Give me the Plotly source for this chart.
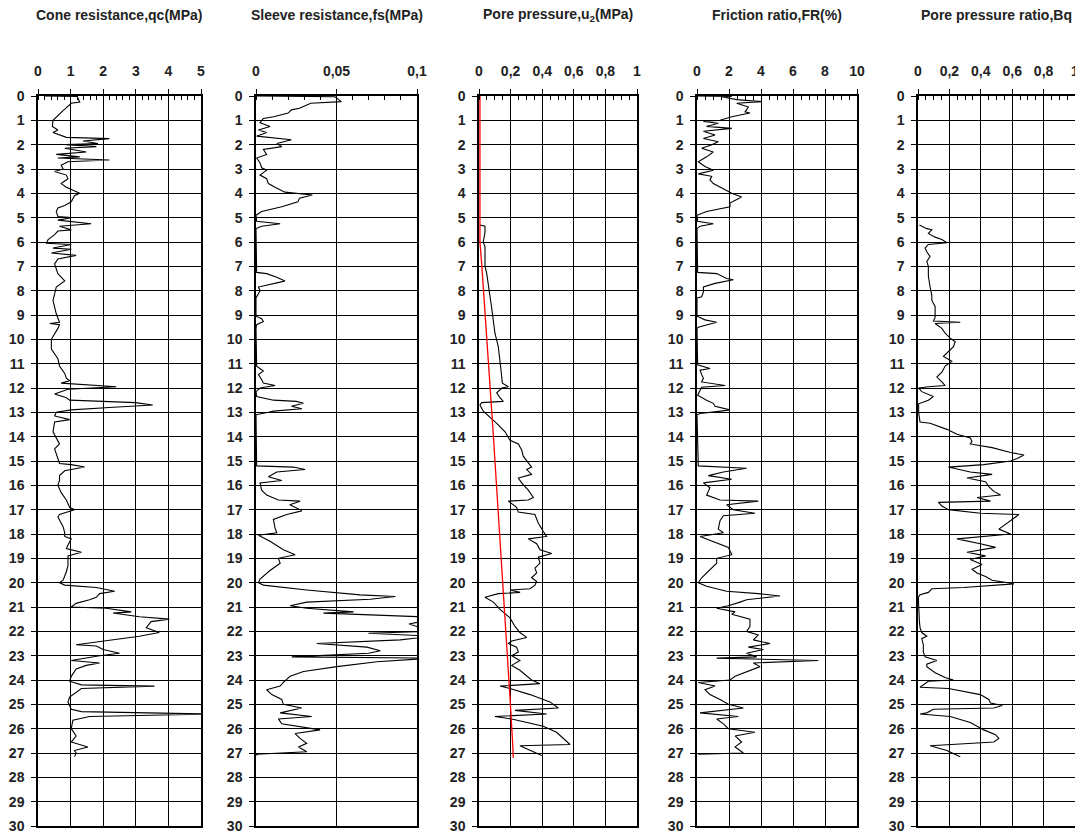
import plotly.graph_objects as go
from plotly.subplots import make_subplots

# CPT log; depth in m
titles = ["Cone resistance,qc(MPa)", "Sleeve resistance,fs(MPa)", "Pore pressure,u<sub>2</sub>(MPa)",
          "Friction ratio,FR(%)", "Pore pressure ratio,Bq"]

qc_depth = [0.0, 0.02, 0.25, 0.3, 0.6, 0.85, 1.0, 1.25, 1.4, 1.5, 1.7, 1.75, 1.85, 1.95, 2.0, 2.08, 2.15, 2.3, 2.4, 2.5,
            2.55, 2.63, 2.7, 2.85, 3.0, 3.1, 3.25, 3.4, 3.6, 3.75, 3.85, 4.0, 4.1, 4.35, 4.5, 4.6, 4.75, 4.95, 5.0, 5.1,
            5.25, 5.35, 5.5, 5.55, 5.7, 5.9, 6.05, 6.1, 6.25, 6.3, 6.45, 6.55, 6.7, 6.9, 7.3, 7.6, 7.85, 8.4, 8.95, 9.3,
            9.35, 9.4, 9.55, 10.0, 10.4, 10.8, 11.1, 11.4, 11.6, 11.7, 11.8, 11.95, 12.05, 12.25, 12.4, 12.5, 12.6, 12.65,
            12.7, 12.8, 12.9, 13.0, 13.15, 13.3, 13.4, 13.8, 14.3, 14.5, 15.1, 15.15, 15.25, 15.4, 15.6, 15.8, 16.0,
            16.3, 16.6, 16.9, 17.0, 17.2, 17.3, 17.7, 17.95, 18.1, 18.2, 18.45, 18.6, 18.75, 18.9, 19.3, 19.55, 19.9,
            20.0, 20.1, 20.2, 20.35, 20.45, 20.6, 20.7, 20.85, 21.0, 21.05, 21.2, 21.25, 21.4, 21.5, 21.6, 21.85, 22.05,
            22.2, 22.4, 22.55, 22.6, 22.75, 22.9, 23.0, 23.2, 23.3, 23.4, 23.55, 23.85, 24.05, 24.2, 24.25, 24.35, 24.5,
            24.7, 24.9, 25.2, 25.3, 25.4, 25.5, 25.65, 26.0, 26.3, 26.55, 26.75, 26.9, 27.0, 27.15]
qc_value = [0.2, 1.2, 1.28, 1.02, 0.77, 0.56, 0.46, 0.44, 0.61, 0.46, 0.87, 2.19, 1.38, 1.84, 0.87, 1.79, 0.82, 1.48, 0.56,
            1.28, 0.61, 2.19, 0.92, 0.71, 0.77, 0.51, 0.87, 0.92, 0.71, 0.87, 1.02, 1.28, 1.12, 1.02, 0.82, 0.61, 0.56,
            0.61, 1.02, 0.61, 1.63, 0.66, 1.02, 0.61, 0.51, 0.31, 0.26, 1.02, 0.46, 1.02, 0.41, 1.17, 0.61, 0.51, 0.61,
            0.82, 0.56, 0.46, 0.56, 0.66, 0.36, 0.66, 0.61, 0.41, 0.41, 0.61, 0.66, 0.82, 0.87, 0.97, 0.71, 2.4, 0.92,
            0.51, 0.87, 0.97, 3.0, 3.32, 3.52, 2.19, 1.02, 0.56, 0.51, 0.97, 0.51, 0.46, 0.66, 0.51, 0.66, 1.02, 1.43,
            0.82, 0.66, 0.66, 0.61, 0.71, 0.87, 0.97, 1.12, 0.66, 0.61, 0.77, 0.82, 0.82, 1.02, 0.92, 0.87, 1.33, 0.92,
            0.92, 0.87, 0.77, 0.66, 0.82, 1.79, 2.35, 1.89, 1.79, 1.58, 1.17, 1.02, 2.09, 2.86, 2.3, 3.11, 4.03, 3.47,
            3.32, 3.72, 3.11, 2.0, 1.17, 1.79, 2.0, 2.5, 1.89, 1.02, 1.89, 1.48, 1.17, 1.02, 0.97, 1.33, 3.57, 1.33,
            1.17, 0.97, 0.92, 1.02, 1.33, 5.3, 1.58, 1.07, 1.02, 1.17, 1.02, 1.53, 1.12, 1.17, 1.12]

fs_depth = [0.0, 0.03, 0.23, 0.3, 0.5, 0.57, 0.7, 0.85, 0.92, 1.1, 1.25, 1.4, 1.5, 1.65, 1.8, 1.95, 2.08, 2.2, 2.4, 2.55,
            2.75, 2.95, 3.05, 3.25, 3.4, 3.6, 3.75, 3.95, 4.07, 4.2, 4.35, 4.55, 4.75, 4.9, 5.15, 5.25, 5.35, 5.45, 7.25,
            7.3, 7.45, 7.6, 7.65, 7.8, 7.85, 8.0, 8.25, 8.3, 9.05, 9.15, 9.27, 9.4, 9.55, 11.1, 11.3, 11.45, 11.65, 11.8,
            11.9, 12.0, 12.15, 12.35, 12.5, 12.55, 12.63, 12.75, 12.85, 12.95, 13.0, 13.1, 15.2, 15.25, 15.35, 15.45,
            15.65, 15.8, 15.9, 16.2, 16.4, 16.6, 16.65, 16.8, 17.0, 17.05, 17.2, 17.4, 17.75, 17.95, 18.05, 18.3, 18.65,
            18.85, 19.0, 19.2, 19.5, 19.85, 20.0, 20.1, 20.3, 20.5, 20.57, 20.68, 20.8, 20.95, 21.05, 21.2, 21.25, 21.4,
            21.5, 21.7, 22.0, 22.08, 22.2, 22.35, 22.5, 22.65, 22.8, 22.9, 23.05, 23.1, 23.25, 23.45, 23.65, 23.85,
            24.1, 24.25, 24.4, 24.6, 24.8, 25.0, 25.15, 25.35, 25.5, 25.6, 25.8, 26.05, 26.2, 26.4, 26.6, 26.75, 26.95,
            27.05, 27.1]
fs_value = [0.0005, 0.049, 0.053, 0.034, 0.027, 0.022, 0.02, 0.011, 0.0046, 0.0025, 0.0087, 0.0015, 0.0066, 0.0004,
            0.022, 0.013, 0.016, 0.0046, 0.0066, 0.0004, 0.0025, 0.0035, 0.0066, 0.0025, 0.0066, 0.0077, 0.0118, 0.018,
            0.035, 0.027, 0.026, 0.016, 0.0035, 0.0, 0.0004, 0.015, 0.0035, 0.0, 0.0004, 0.0066, 0.0129, 0.018, 0.015,
            0.0046, 0.0015, 0.0025, 0.0008, 0.0, 0.0, 0.0035, 0.0046, 0.0004, 0.0, 0.0004, 0.0046, 0.0015, 0.0035,
            0.0046, 0.0118, 0.0025, 0.0, 0.0004, 0.0108, 0.025, 0.0295, 0.022, 0.0285, 0.0108, 0.0077, 0.0, 0.0004,
            0.0232, 0.0305, 0.0129, 0.0077, 0.016, 0.0025, 0.0035, 0.0066, 0.0139, 0.0274, 0.021, 0.0274, 0.0284,
            0.0191, 0.0108, 0.0118, 0.0129, 0.0015, 0.0087, 0.017, 0.0243, 0.0139, 0.015, 0.0087, 0.0025, 0.0015,
            0.0046, 0.0315, 0.0647, 0.0865, 0.071, 0.0315, 0.0212, 0.0315, 0.0606, 0.0419, 0.102, 0.11, 0.095, 0.11,
            0.0699, 0.11, 0.0896, 0.0378, 0.0689, 0.0772, 0.0699, 0.0222, 0.11, 0.0751, 0.0502, 0.0295, 0.0212, 0.017,
            0.015, 0.0066, 0.0098, 0.016, 0.017, 0.0284, 0.015, 0.0346, 0.0139, 0.016, 0.0398, 0.0243, 0.0274, 0.0315,
            0.0264, 0.0315, 0.0004, 0.0008]

u2_depth = [5.3, 5.35, 5.6, 6.0, 6.2, 7.0, 7.3, 7.85, 8.25, 8.7, 9.3, 9.75, 10.3, 10.8, 11.25, 11.8, 11.95, 12.0, 12.2,
            12.4, 12.55, 12.6, 12.7, 12.95, 13.25, 13.45, 13.8, 14.15, 14.3, 14.55, 14.8, 15.0, 15.25, 15.35, 15.55,
            15.7, 15.9, 16.2, 16.5, 16.6, 16.65, 16.9, 17.1, 17.2, 17.55, 17.9, 18.1, 18.2, 18.4, 18.65, 18.8, 18.95,
            19.2, 19.4, 19.6, 19.8, 19.95, 20.1, 20.25, 20.3, 20.4, 20.45, 20.6, 20.8, 21.1, 21.45, 21.8, 22.05, 22.25,
            22.4, 22.5, 22.65, 22.85, 23.0, 23.2, 23.4, 23.6, 24.0, 24.15, 24.25, 24.35, 24.6, 24.9, 25.15, 25.25, 25.4,
            25.5, 25.6, 25.9, 26.15, 26.45, 26.65, 26.7, 26.85, 27.1]
u2_value = [0.006, 0.038, 0.038, 0.027, 0.038, 0.038, 0.049, 0.059, 0.07, 0.08, 0.091, 0.101, 0.122, 0.129, 0.139,
            0.148, 0.186, 0.144, 0.112, 0.133, 0.154, 0.017, 0.006, 0.027, 0.08, 0.112, 0.165, 0.196, 0.249, 0.27, 0.28,
            0.302, 0.333, 0.302, 0.333, 0.249, 0.27, 0.312, 0.344, 0.312, 0.186, 0.238, 0.249, 0.354, 0.375, 0.407,
            0.428, 0.312, 0.365, 0.386, 0.46, 0.375, 0.386, 0.354, 0.365, 0.333, 0.365, 0.354, 0.323, 0.196, 0.26,
            0.122, 0.038, 0.091, 0.133, 0.196, 0.228, 0.259, 0.302, 0.207, 0.186, 0.238, 0.249, 0.207, 0.259, 0.207,
            0.259, 0.333, 0.386, 0.133, 0.196, 0.323, 0.449, 0.502, 0.228, 0.428, 0.101, 0.207, 0.407, 0.491, 0.544,
            0.576, 0.259, 0.312, 0.397]

# hydrostatic line (red)
u0_depth = [0.0, 6.0, 6.9, 8.8, 10.3, 12.05, 13.95, 15.0, 17.6, 20.0, 22.8, 24.7, 26.6, 27.2]
u0_value = [0.006, 0.006, 0.017, 0.038, 0.053, 0.07, 0.091, 0.101, 0.127, 0.15, 0.181, 0.196, 0.213, 0.217]

fr_depth = [0.0, 0.02, 0.03, 0.15, 0.23, 0.3, 0.45, 0.65, 0.7, 0.85, 1.0, 1.05, 1.12, 1.25, 1.33, 1.45, 1.6, 1.75, 1.88,
            2.0, 2.15, 2.3, 2.5, 2.7, 2.9, 3.05, 3.2, 3.3, 3.45, 3.6, 3.75, 3.85, 4.0, 4.15, 4.27, 4.4, 4.55, 4.75, 4.9,
            5.15, 5.25, 5.35, 5.45, 7.25, 7.3, 7.5, 7.55, 7.7, 7.85, 8.05, 8.25, 8.3, 9.05, 9.2, 9.3, 9.5, 9.55, 11.05,
            11.2, 11.27, 11.45, 11.6, 11.75, 11.9, 11.97, 12.3, 12.5, 12.63, 12.75, 12.9, 12.97, 13.05, 13.1, 15.2,
            15.3, 15.45, 15.6, 15.75, 15.9, 16.1, 16.4, 16.6, 16.65, 16.8, 17.0, 17.15, 17.25, 17.45, 17.8, 17.95, 18.1,
            18.35, 18.55, 18.85, 19.0, 19.2, 19.45, 19.8, 20.0, 20.15, 20.35, 20.45, 20.55, 20.7, 20.8, 20.95, 21.05,
            21.2, 21.3, 21.5, 21.8, 22.0, 22.15, 22.35, 22.5, 22.65, 22.75, 22.9, 23.05, 23.1, 23.2, 23.3, 23.45, 23.65,
            23.85, 24.0, 24.1, 24.25, 24.4, 24.6, 24.8, 25.0, 25.15, 25.35, 25.5, 25.6, 25.8, 26.0, 26.15, 26.3, 26.55,
            26.75, 26.9, 27.0, 27.05]
fr_value = [0.0, 2.17, 1.54, 2.48, 4.04, 2.48, 3.21, 3.0, 3.31, 2.17, 1.44, 0.4, 1.33, 0.6, 2.17, 0.4, 1.13, 0.4, 1.33,
            0.92, 0.29, 1.02, 0.6, 0.08, 0.5, 1.02, 0.08, 0.92, 0.81, 1.02, 1.44, 1.75, 2.17, 2.79, 2.48, 2.06, 2.06,
            0.6, 0.0, 0.04, 1.02, 0.19, 0.0, 0.04, 1.23, 1.85, 2.27, 1.13, 0.4, 0.4, 0.29, 0.0, 0.0, 0.5, 1.23, 0.08,
            0.0, 0.04, 0.81, 0.19, 0.29, 0.4, 0.29, 1.75, 0.29, 0.04, 0.6, 1.02, 1.13, 2.06, 1.23, 0.19, 0.0, 0.08, 3.1,
            1.65, 0.71, 2.17, 0.4, 0.81, 0.6, 1.44, 3.83, 1.85, 2.27, 3.62, 1.65, 1.44, 1.33, 1.65, 0.19, 1.13, 1.96,
            2.17, 1.23, 1.23, 0.81, 0.29, 0.08, 0.6, 1.85, 3.83, 5.19, 3.1, 2.69, 1.96, 1.23, 2.38, 2.17, 3.31, 3.31,
            3.1, 3.83, 3.52, 4.56, 3.21, 4.15, 3.1, 3.73, 1.23, 7.58, 3.52, 3.94, 3.1, 2.38, 2.06, 0.08, 1.13, 0.5,
            0.81, 1.44, 1.96, 2.9, 0.19, 2.58, 1.23, 1.65, 1.96, 3.62, 2.38, 2.79, 2.38, 2.69, 2.9, 0.08]

bq_depth = [5.3, 5.45, 5.5, 5.65, 5.8, 5.9, 6.03, 6.1, 6.25, 6.4, 6.6, 6.8, 7.0, 7.4, 7.85, 8.2, 8.4, 8.65, 8.9, 9.1,
            9.25, 9.3, 9.35, 9.55, 9.75, 9.95, 10.1, 10.3, 10.5, 10.7, 10.9, 11.1, 11.35, 11.55, 11.75, 11.9, 11.95,
            12.0, 12.15, 12.35, 12.5, 12.65, 13.0, 13.4, 13.45, 13.7, 13.9, 14.05, 14.2, 14.3, 14.45, 14.65, 14.75,
            14.9, 15.0, 15.15, 15.25, 15.45, 15.55, 15.7, 15.85, 16.05, 16.25, 16.4, 16.5, 16.65, 16.7, 16.85, 17.0,
            17.15, 17.2, 17.35, 17.55, 17.8, 18.0, 18.1, 18.2, 18.4, 18.55, 18.75, 18.9, 19.05, 19.25, 19.45, 19.6,
            19.75, 19.9, 20.05, 20.2, 20.25, 20.4, 20.5, 20.6, 21.6, 21.85, 22.05, 22.2, 22.3, 22.55, 22.85, 23.05,
            23.2, 23.35, 23.45, 23.7, 23.9, 24.0, 24.05, 24.2, 24.3, 24.35, 24.6, 24.8, 24.95, 25.05, 25.15, 25.2,
            25.35, 25.4, 25.5, 25.75, 26.05, 26.25, 26.4, 26.55, 26.7, 26.9, 27.1, 27.15]
bq_value = [0.009, 0.056, 0.088, 0.066, 0.109, 0.152, 0.184, 0.066, 0.045, 0.056, 0.077, 0.056, 0.066, 0.066, 0.077,
            0.088, 0.088, 0.109, 0.109, 0.109, 0.098, 0.269, 0.109, 0.152, 0.173, 0.205, 0.237, 0.226, 0.194, 0.162,
            0.216, 0.173, 0.152, 0.12, 0.152, 0.173, 0.066, 0.004, 0.024, 0.098, 0.066, 0.004, 0.004, 0.013, 0.077,
            0.184, 0.248, 0.333, 0.344, 0.333, 0.472, 0.59, 0.675, 0.632, 0.59, 0.419, 0.194, 0.333, 0.472, 0.312,
            0.43, 0.451, 0.483, 0.526, 0.376, 0.462, 0.13, 0.152, 0.194, 0.397, 0.643, 0.611, 0.568, 0.515, 0.59,
            0.43, 0.248, 0.397, 0.494, 0.312, 0.43, 0.333, 0.408, 0.344, 0.376, 0.43, 0.472, 0.611, 0.29, 0.088,
            0.066, 0.013, 0.002, 0.009, 0.013, 0.024, 0.056, 0.024, 0.034, 0.034, 0.045, 0.12, 0.056, 0.056, 0.109,
            0.173, 0.226, 0.066, 0.034, 0.013, 0.194, 0.397, 0.451, 0.462, 0.537, 0.483, 0.098, 0.056, 0.013, 0.205,
            0.333, 0.419, 0.494, 0.515, 0.483, 0.077, 0.184, 0.259, 0.269]

x_ranges = [[0, 5], [0, 0.1], [0, 1], [0, 10], [0, 1]]
x_dticks = [1, 0.05, 0.2, 2, 0.2]
x_minor = [0.2, 0.01, 0.05, 0.5, 0.05]

# the page body adds an 8px margin, so everything is laid out 8px up/left
PAD = 8
W, H = 1083, 834
panel_px = [(38, 201), (256, 417), (479, 637), (697, 857), (918, 1075)]
y_dom = [1 - (826 - PAD) / H, 1 - (96 - PAD) / H]

fig = make_subplots(rows=1, cols=5)

series = [(qc_value, qc_depth), (fs_value, fs_depth), (u2_value, u2_depth), (fr_value, fr_depth), (bq_value, bq_depth)]
for i, (xv, yv) in enumerate(series):
    fig.add_trace(go.Scatter(x=xv, y=yv, mode="lines", line=dict(color="black", width=1.1)), row=1, col=i + 1)
fig.add_trace(go.Scatter(x=u0_value, y=u0_depth, mode="lines", line=dict(color="red", width=1.3)), row=1, col=3)

tick_font = dict(family="Liberation Sans, Arial", size=14, color="#222", weight="bold")

for i in range(5):
    x0, x1 = panel_px[i]
    fig.update_xaxes(
        domain=[(x0 - PAD) / W, (x1 - PAD) / W], range=x_ranges[i], dtick=x_dticks[i], tick0=0, side="top",
        automargin=False, showline=True, linecolor="black", linewidth=1.5, mirror=True,
        showgrid=True, gridcolor="black", gridwidth=1.3, zeroline=False,
        ticks="outside", ticklen=5, tickcolor="black", tickfont=tick_font, ticklabelstandoff=8,
        minor=dict(ticks="inside", ticklen=4, dtick=x_minor[i], tick0=0, tickcolor="black", showgrid=False),
        row=1, col=i + 1)
    fig.update_yaxes(
        domain=y_dom, range=[30, 0], dtick=1, tick0=0, automargin=False,
        showline=True, linecolor="black", linewidth=1.5, mirror=True,
        showgrid=True, gridcolor="black", gridwidth=1.3, zeroline=False,
        ticks="outside", ticklen=5, tickcolor="black", tickfont=tick_font, ticklabelstandoff=4,
        row=1, col=i + 1)
    fig.add_annotation(text=titles[i], x=((x0 + x1) / 2 - PAD) / W, y=1 - (15 - PAD) / H,
                       xref="paper", yref="paper", showarrow=False, xanchor="center", yanchor="middle",
                       font=dict(family="Liberation Sans, Arial", size=14, color="#222", weight="bold"))

fig.update_layout(
    width=W, height=H, showlegend=False, separators=", ",
    margin=dict(l=0, r=0, t=0, b=0),
    paper_bgcolor="white", plot_bgcolor="white",
)

fig.write_html("out.html")
